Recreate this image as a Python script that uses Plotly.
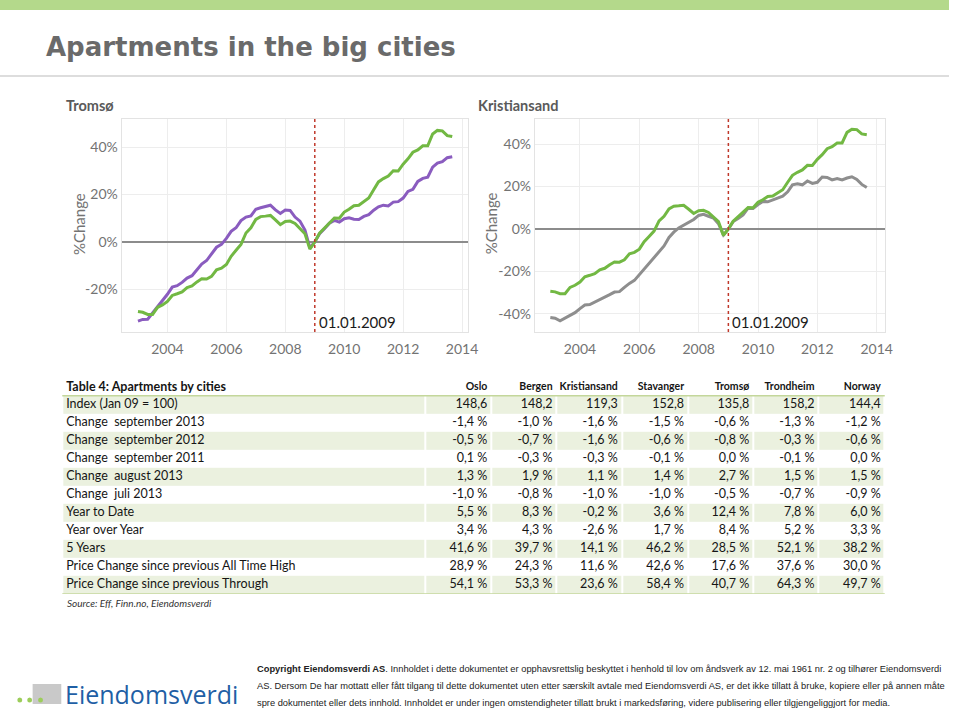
import plotly.graph_objects as go
import pandas as pd

# ---------------- data ----------------
dates = pd.date_range("2003-01-01", "2013-09-01", freq="2MS")

norway = [-29.3, -29.6, -30.5, -30.5, -27.5, -26.5, -25.0, -22.5, -21.8, -21.0, -19.2, -18.5,
          -16.8, -15.5, -15.6, -14.5, -11.7, -11.0, -9.5, -6.0, -3.5, -1.0, 3.8, 6.0,
          9.5, 10.7, 10.9, 11.2, 9.3, 7.3, 8.6, 8.8, 7.8, 5.8, 3.5, -3.0,
          0.0, 3.7, 5.8, 7.9, 10.1, 10.0, 12.6, 13.8, 15.3, 15.5, 17.0, 18.5,
          22.0, 25.3, 26.7, 27.8, 30.0, 29.9, 32.8, 35.0, 37.8, 38.8, 40.5, 40.5,
          45.5, 47.0, 46.8, 44.8, 44.4]

tromso = [-33.3, -32.6, -32.5, -30.0, -27.0, -24.5, -22.0, -19.0, -18.4, -17.0, -15.2, -14.2,
          -11.5, -9.3, -7.8, -5.2, -2.2, -1.0, 1.5, 4.5, 6.0, 9.0, 10.5, 11.0,
          13.8, 14.4, 14.9, 15.5, 13.5, 12.0, 13.5, 13.3, 10.5, 8.8, 5.0, -2.5,
          0.0, 3.5, 5.6, 7.9, 9.1, 8.4, 9.8, 10.2, 9.6, 9.5, 10.8, 11.5,
          13.4, 14.8, 15.5, 15.2, 16.8, 17.0, 18.5, 21.3, 22.2, 25.5, 26.8, 27.3,
          31.5, 33.2, 33.8, 35.5, 35.9]

kristiansand = [-41.7, -42.0, -43.2, -42.0, -40.5, -39.4, -37.5, -35.8, -35.6, -34.5, -33.0, -32.2,
                -30.9, -29.7, -29.5, -27.5, -25.6, -24.2, -21.5, -18.5, -16.0, -13.5, -10.5, -8.0,
                -4.0, -1.5, 0.5, 1.8, 3.2, 4.5, 6.4, 6.9, 6.0, 5.2, 2.5, -2.8,
                0.0, 3.5, 5.0, 6.6, 9.8, 9.7, 11.5, 13.0, 12.8, 13.7, 14.4, 15.5,
                17.5, 20.8, 21.3, 20.8, 22.6, 21.5, 22.0, 24.5, 24.3, 23.1, 23.8, 23.1,
                24.0, 24.6, 23.3, 21.0, 19.5]

pct_ticks_left = [-20, 0, 20, 40]
pct_ticks_right = [-40, -20, 0, 20, 40]
year_ticks = [2004, 2006, 2008, 2010, 2012, 2014]

# table
table_title = "Table 4: Apartments by cities"
cities = ["Oslo", "Bergen", "Kristiansand", "Stavanger", "Tromsø", "Trondheim", "Norway"]
row_labels = ["Index (Jan 09 = 100)", "Change  september 2013", "Change  september 2012",
              "Change  september 2011", "Change  august 2013", "Change  juli 2013",
              "Year to Date", "Year over Year", "5 Years",
              "Price Change since previous All Time High", "Price Change since previous Through"]
index_values = [148.6, 148.2, 119.3, 152.8, 135.8, 158.2, 144.4]
oslo_pct = [-1.4, -0.5, 0.1, 1.3, -1.0, 5.5, 3.4, 41.6, 28.9, 54.1]
bergen_pct = [-1.0, -0.7, -0.3, 1.9, -0.8, 8.3, 4.3, 39.7, 24.3, 53.3]
kristiansand_pct = [-1.6, -1.6, -0.3, 1.1, -1.0, -0.2, -2.6, 14.1, 11.6, 23.6]
stavanger_pct = [-1.5, -0.6, -0.1, 1.4, -1.0, 3.6, 1.7, 46.2, 42.6, 58.4]
tromso_pct = [-0.6, -0.8, 0.0, 2.7, -0.5, 12.4, 8.4, 28.5, 17.6, 40.7]
trondheim_pct = [-1.3, -0.3, -0.1, 1.5, -0.7, 7.8, 5.2, 52.1, 37.6, 64.3]
norway_pct = [-1.2, -0.6, 0.0, 1.5, -0.9, 6.0, 3.3, 38.2, 30.0, 49.7]
source_text = "Source: Eff, Finn.no, Eiendomsverdi"

copyright_lines = [
    "<b>Copyright Eiendomsverdi AS</b>. Innholdet i dette dokumentet er opphavsrettslig beskyttet i henhold til lov om åndsverk av 12. mai 1961 nr. 2 og tilhører Eiendomsverdi",
    "AS. Dersom De har mottatt eller fått tilgang til dette dokumentet uten etter særskilt avtale med Eiendomsverdi AS, er det ikke tillatt å bruke, kopiere eller på annen måte",
    "spre dokumentet eller dets innhold. Innholdet er under ingen omstendigheter tillatt brukt i markedsføring, videre publisering eller tilgjengeliggjort for media.",
]

# ---------------- styling ----------------
W, H = 960, 712
GREEN = "#72b843"
PURPLE = "#8a5cbf"
GREY = "#8e8e8e"
TICK = dict(family="Lato", size=14, color="#737373")
TABLE_FONT = "Lato"


def px(xp):
    return xp / W


def py(yp):
    return 1 - yp / H


fig = go.Figure()

# ---------------- charts ----------------
fig.add_trace(go.Scatter(x=dates, y=tromso, mode="lines", line=dict(color=PURPLE, width=3),
                         xaxis="x", yaxis="y", name="Tromsø"))
fig.add_trace(go.Scatter(x=dates, y=norway, mode="lines", line=dict(color=GREEN, width=3),
                         xaxis="x", yaxis="y", name="Norway"))
fig.add_trace(go.Scatter(x=dates, y=kristiansand, mode="lines", line=dict(color=GREY, width=3),
                         xaxis="x2", yaxis="y2", name="Kristiansand"))
fig.add_trace(go.Scatter(x=dates, y=norway, mode="lines", line=dict(color=GREEN, width=3),
                         xaxis="x2", yaxis="y2", name="Norway"))

ax_common = dict(showgrid=True, gridcolor="#ededed", gridwidth=1, showline=True,
                 linecolor="#e3e3e3", mirror=True, ticks="", tickfont=TICK)
xt_vals = [f"{y}-01-01" for y in year_ticks]
xt_text = [str(y) for y in year_ticks]

fig.update_layout(
    xaxis=dict(domain=[px(123), px(473)], range=["2002-06-12", "2014-03-10"],
               tickvals=xt_vals, ticktext=xt_text, anchor="y", ticklabelstandoff=4, **ax_common),
    yaxis=dict(domain=[py(332), py(119)], range=[-37.9, 51.8], tickvals=pct_ticks_left,
               ticktext=[f"{v}%" for v in pct_ticks_left],
               zeroline=True, zerolinecolor="#8c8c8c", zerolinewidth=1.5, anchor="x", **ax_common),
    xaxis2=dict(domain=[px(541), px(895)], range=["2002-06-24", "2014-04-10"],
                tickvals=xt_vals, ticktext=xt_text, anchor="y2", ticklabelstandoff=4, **ax_common),
    yaxis2=dict(domain=[py(332), py(119)], range=[-48.5, 51.8], tickvals=pct_ticks_right,
                ticktext=[f"{v}%" for v in pct_ticks_right],
                zeroline=True, zerolinecolor="#8c8c8c", zerolinewidth=1.5, anchor="x2", **ax_common),
)

# ---------------- table (heatmap cells + text on its own axes) ----------------
col_edges = [0, 367, 434, 500, 566, 633, 699, 765, 832]   # layout of table columns (px)
n_rows = len(row_labels)
z = [[1 if r % 2 == 0 else 0 for _ in range(len(cities) + 1)] for r in range(n_rows)]
fig.add_trace(go.Heatmap(z=z, x=col_edges, y=list(range(n_rows + 1)), xaxis="x3", yaxis="y3",
                         colorscale=[[0, "#ffffff"], [1, "#ebf1df"]], showscale=False,
                         xgap=2, ygap=0, hoverinfo="skip"))

fmt_idx = [f"{v:.1f}".replace(".", ",") for v in index_values]
city_cols = [oslo_pct, bergen_pct, kristiansand_pct, stavanger_pct, tromso_pct, trondheim_pct, norway_pct]
val_x, val_y, val_t = [], [], []
for i, c in enumerate(city_cols):
    texts = [fmt_idx[i]] + [f"{v:.1f} %".replace(".", ",") for v in c]
    for r, t in enumerate(texts):
        val_x.append(col_edges[i + 2] - 4)
        val_y.append(r + 0.5)
        val_t.append(t)

fig.add_trace(go.Scatter(x=[4] * n_rows, y=[r + 0.5 for r in range(n_rows)], text=row_labels,
                         mode="text", textposition="middle right", xaxis="x3", yaxis="y3",
                         textfont=dict(family=TABLE_FONT, size=12.5, color="#151515"), hoverinfo="skip"))
fig.add_trace(go.Scatter(x=val_x, y=val_y, text=val_t, mode="text", textposition="middle left",
                         xaxis="x3", yaxis="y3",
                         textfont=dict(family=TABLE_FONT, size=12.5, color="#151515"), hoverinfo="skip"))
fig.add_trace(go.Scatter(x=[4], y=[-0.45], text=["<b>" + table_title + "</b>"], mode="text",
                         textposition="middle right", xaxis="x3", yaxis="y3",
                         textfont=dict(family=TABLE_FONT, size=12.5, color="#151515"), hoverinfo="skip"))
fig.add_trace(go.Scatter(x=[e - 4 for e in col_edges[2:]], y=[-0.45] * len(cities),
                         text=["<b>" + c + "</b>" for c in cities], mode="text",
                         textposition="middle left", xaxis="x3", yaxis="y3",
                         textfont=dict(family=TABLE_FONT, size=10.5, color="#151515"), hoverinfo="skip"))

hidden = dict(showgrid=False, zeroline=False, showticklabels=False, showline=False, ticks="")
fig.update_layout(
    xaxis3=dict(domain=[px(63), px(895)], range=[0, 832], anchor="y3", **hidden),
    yaxis3=dict(domain=[py(594), py(379)], range=[11, -0.93], anchor="x3", **hidden),
)

shapes = [
    dict(type="rect", xref="paper", yref="paper", x0=0, x1=1, y0=py(10), y1=1,
         fillcolor="#b4d98b", line=dict(width=0), layer="below"),
    dict(type="line", xref="paper", yref="paper", x0=0, x1=1, y0=py(76), y1=py(76),
         line=dict(color="#d2d2d2", width=1.5)),
    dict(type="line", xref="x", yref="y domain", x0="2009-01-01", x1="2009-01-01", y0=0, y1=1,
         line=dict(color="#c0392b", width=1.5, dash="dot")),
    dict(type="line", xref="x2", yref="y2 domain", x0="2009-01-01", x1="2009-01-01", y0=0, y1=1,
         line=dict(color="#c0392b", width=1.5, dash="dot")),
    dict(type="line", xref="x3 domain", yref="y3", x0=0, x1=1, y0=0, y1=0,
         line=dict(color="#c4d79b", width=1.5)),
    dict(type="line", xref="x3 domain", yref="y3", x0=0, x1=1, y0=n_rows, y1=n_rows,
         line=dict(color="#c4d79b", width=1.5)),
    dict(type="rect", xref="paper", yref="paper", x0=px(33), x1=px(62), y0=py(704), y1=py(684),
         fillcolor="#c9c9c9", line=dict(width=0)),
]
for cx in (20, 30, 41):
    shapes.append(dict(type="circle", xref="paper", yref="paper", x0=px(cx - 2.5), x1=px(cx + 2.5),
                       y0=py(702.5), y1=py(697.5), fillcolor="#9ccd5a", line=dict(width=0)))

annotations = [
    dict(text="<b>Apartments in the big cities</b>", x=px(45), y=py(47), xref="paper", yref="paper",
         xanchor="left", yanchor="middle", showarrow=False,
         font=dict(family="DejaVu Sans", size=26, color="#6a6a6a")),
    dict(text="<b>Tromsø</b>", x=px(65), y=py(105), xref="paper", yref="paper", xanchor="left",
         yanchor="middle", showarrow=False, font=dict(family="Lato", size=14.5, color="#5a5a5a")),
    dict(text="<b>Kristiansand</b>", x=px(482), y=py(105), xref="paper", yref="paper", xanchor="left",
         yanchor="middle", showarrow=False, font=dict(family="Lato", size=14.5, color="#5a5a5a")),
    dict(text="%Change", x=px(80), y=py(224), xref="paper", yref="paper", textangle=-90,
         xanchor="center", yanchor="middle", showarrow=False, font=dict(family="Lato", size=15, color="#737373")),
    dict(text="%Change", x=px(497), y=py(223), xref="paper", yref="paper", textangle=-90,
         xanchor="center", yanchor="middle", showarrow=False, font=dict(family="Lato", size=15, color="#737373")),
    dict(text="01.01.2009", x="2009-01-01", y=py(322), xref="x", yref="paper", xanchor="left",
         xshift=2, yanchor="middle", showarrow=False, font=dict(family="Lato", size=15, color="#1a1a1a")),
    dict(text="01.01.2009", x="2009-01-01", y=py(322), xref="x2", yref="paper", xanchor="left",
         xshift=2, yanchor="middle", showarrow=False, font=dict(family="Lato", size=15, color="#1a1a1a")),
    dict(text="<i>" + source_text + "</i>", x=px(66), y=py(603), xref="paper", yref="paper",
         xanchor="left", yanchor="middle", showarrow=False,
         font=dict(family="Lato", size=10, color="#333333")),
    dict(text="Eiendomsverdi", x=px(64), y=py(694), xref="paper", yref="paper", xanchor="left",
         yanchor="middle", showarrow=False, font=dict(family="Open Sans", size=25, color="#1f5fa5")),
]
for i, line in enumerate(copyright_lines):
    annotations.append(dict(text=line, x=px(258), y=py(669 + 17 * i), xref="paper", yref="paper",
                            xanchor="left", yanchor="middle", align="left", showarrow=False,
                            font=dict(family="Liberation Sans", size=9.3, color="#222222")))

fig.update_layout(width=W, height=H, margin=dict(l=0, r=0, t=0, b=0), showlegend=False,
                  paper_bgcolor="white", plot_bgcolor="white", shapes=shapes, annotations=annotations,
                  font=dict(family="Lato"))

fig.write_html("out.html", post_script="document.body.style.margin='0';", config={"displayModeBar": False})
